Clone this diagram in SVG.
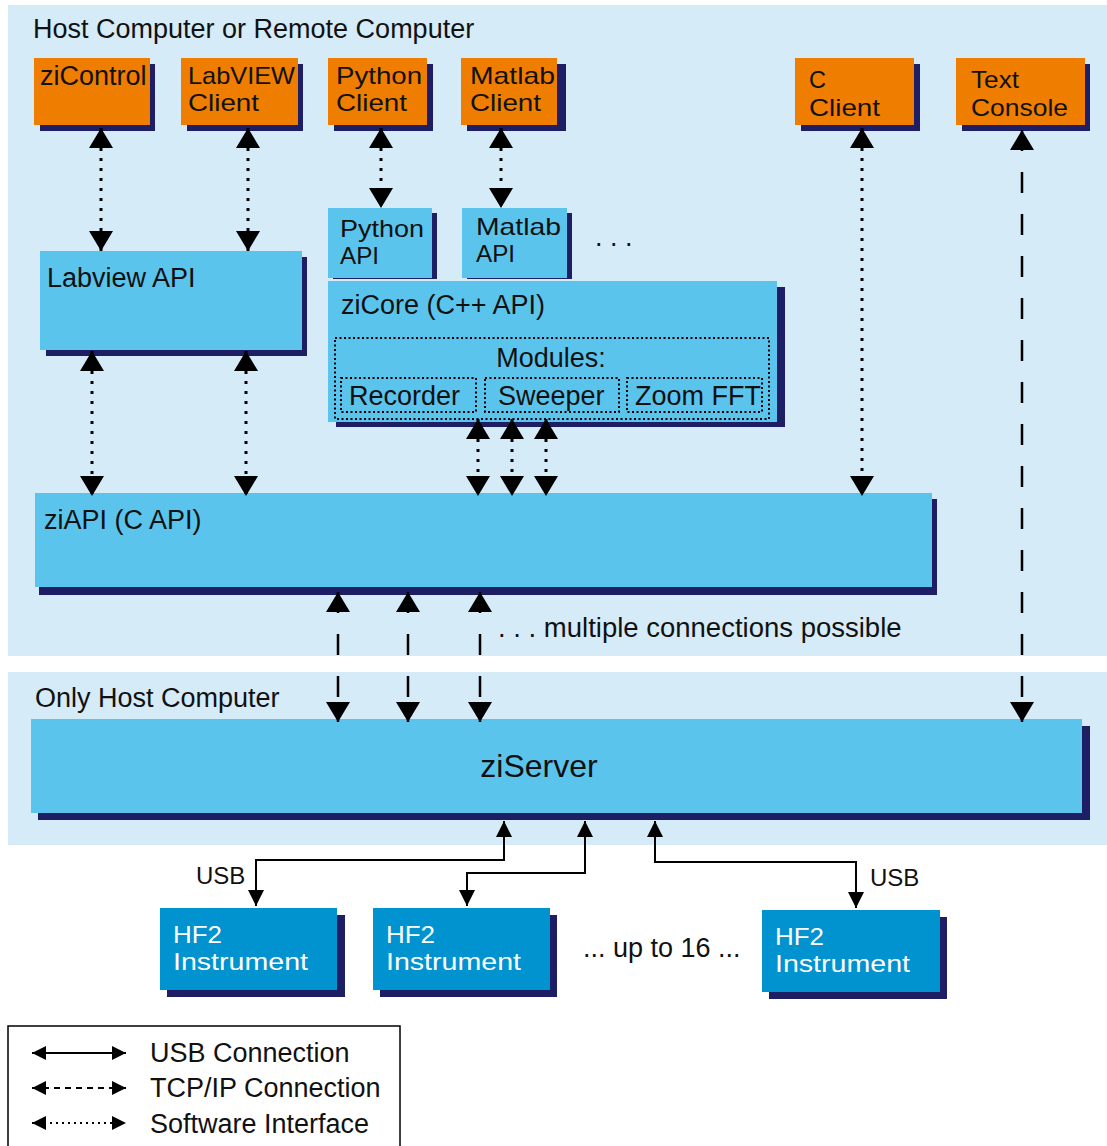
<svg xmlns="http://www.w3.org/2000/svg" width="1107" height="1146" viewBox="0 0 1107 1146">
<style>
text{font-family:"Liberation Sans",Arial,sans-serif;font-size:27px;fill:#111}
text.two{font-size:24px}
text.big{font-size:32px}
text.usbl{font-size:24px}
text.mc{font-size:27.5px}
text.wt{fill:#fff}
.panel{fill:#d5ebf8}
.sh{fill:#1e1e64}
.or{fill:#ef7d00}
.bl{fill:#5bc4ec}
.hf{fill:#0093d0}
.dot{stroke:#000;stroke-width:3;stroke-dasharray:3 7;fill:none}
.dash{stroke:#000;stroke-width:2.5;stroke-dasharray:21 21;fill:none}
.usb{stroke:#000;stroke-width:2;fill:none}
.mod{fill:none;stroke:#000;stroke-width:2;stroke-dasharray:2 2.5}
</style>
<defs>
<marker id="ah" viewBox="0 0 20 24" refX="20" refY="12" markerWidth="20" markerHeight="24" markerUnits="userSpaceOnUse" orient="auto-start-reverse"><path d="M0,0L20,12L0,24z" fill="#000"/></marker>
<marker id="as" viewBox="0 0 16 16" refX="16" refY="8" markerWidth="16" markerHeight="16" markerUnits="userSpaceOnUse" orient="auto-start-reverse"><path d="M0,0L16,8L0,16z" fill="#000"/></marker>
<marker id="al" viewBox="0 0 14 14" refX="14" refY="7" markerWidth="14" markerHeight="14" markerUnits="userSpaceOnUse" orient="auto-start-reverse"><path d="M0,0L14,7L0,14z" fill="#000"/></marker>
</defs>

<g id="panel-remote">
<rect class="panel" x="8" y="5" width="1099" height="651"/>
<text x="33" y="38">Host Computer or Remote Computer</text>
</g>
<g id="panel-host">
<rect class="panel" x="8" y="672" width="1099" height="173"/>
<text x="35" y="707">Only Host Computer</text>
</g>

<g id="ziControl">
<rect class="sh" x="40" y="64" width="115" height="67"/>
<rect class="or" x="34" y="58" width="116" height="67"/>
<text x="40" y="85">ziControl</text>
</g>
<g id="labview-client">
<rect class="sh" x="187" y="64" width="116" height="67"/>
<rect class="or" x="181" y="58" width="117" height="67"/>
<text class="two" x="188" y="84" textLength="107" lengthAdjust="spacingAndGlyphs">LabVIEW</text>
<text class="two" x="188" y="111" textLength="71" lengthAdjust="spacingAndGlyphs">Client</text>
</g>
<g id="python-client">
<rect class="sh" x="334" y="64" width="99" height="67"/>
<rect class="or" x="328" y="58" width="99" height="67"/>
<text class="two" x="336" y="84" textLength="86" lengthAdjust="spacingAndGlyphs">Python</text>
<text class="two" x="336" y="111" textLength="71" lengthAdjust="spacingAndGlyphs">Client</text>
</g>
<g id="matlab-client">
<rect class="sh" x="467" y="64" width="99" height="67"/>
<rect class="or" x="461" y="58" width="96" height="67"/>
<text class="two" x="470" y="84" textLength="85" lengthAdjust="spacingAndGlyphs">Matlab</text>
<text class="two" x="470" y="111" textLength="71" lengthAdjust="spacingAndGlyphs">Client</text>
</g>
<g id="c-client">
<rect class="sh" x="801" y="64" width="119" height="67"/>
<rect class="or" x="795" y="58" width="119" height="67"/>
<text class="two" x="809" y="88" textLength="17" lengthAdjust="spacingAndGlyphs">C</text>
<text class="two" x="809" y="116" textLength="71" lengthAdjust="spacingAndGlyphs">Client</text>
</g>
<g id="text-console">
<rect class="sh" x="962" y="64" width="128" height="67"/>
<rect class="or" x="956" y="58" width="129" height="67"/>
<text class="two" x="971" y="88" textLength="48" lengthAdjust="spacingAndGlyphs">Text</text>
<text class="two" x="971" y="116" textLength="97" lengthAdjust="spacingAndGlyphs">Console</text>
</g>

<g id="python-api">
<rect class="sh" x="333" y="213" width="104" height="66"/>
<rect class="bl" x="328" y="208" width="104" height="70"/>
<text class="two" x="340" y="237" textLength="84" lengthAdjust="spacingAndGlyphs">Python</text>
<text class="two" x="340" y="264" textLength="39" lengthAdjust="spacingAndGlyphs">API</text>
</g>
<g id="matlab-api">
<rect class="sh" x="467" y="213" width="105" height="66"/>
<rect class="bl" x="462" y="208" width="105" height="70"/>
<text class="two" x="476" y="235" textLength="85" lengthAdjust="spacingAndGlyphs">Matlab</text>
<text class="two" x="476" y="262" textLength="39" lengthAdjust="spacingAndGlyphs">API</text>
</g>
<text x="595" y="246">. . .</text>

<g id="zicore">
<rect class="sh" x="336" y="287" width="449" height="140"/>
<rect class="bl" x="328" y="281" width="449" height="141"/>
<text x="341" y="314">ziCore (C++ API)</text>
<rect class="mod" x="335" y="338" width="434" height="81"/>
<text x="551" y="367" text-anchor="middle">Modules:</text>
<rect class="mod" x="341" y="378" width="135" height="34"/>
<rect class="mod" x="485" y="378" width="134" height="34"/>
<rect class="mod" x="627" y="378" width="135" height="34"/>
<text x="349" y="405">Recorder</text>
<text x="498" y="405">Sweeper</text>
<text x="635" y="405">Zoom FFT</text>
</g>

<g id="labview-api">
<rect class="sh" x="46" y="257" width="261" height="99"/>
<rect class="bl" x="40" y="251" width="262" height="99"/>
<text x="47" y="287">Labview API</text>
</g>

<g id="ziapi">
<rect class="sh" x="39" y="499" width="898" height="96"/>
<rect class="bl" x="35" y="493" width="897" height="94"/>
<text x="44" y="529">ziAPI (C API)</text>
</g>

<g id="ziserver">
<rect class="sh" x="38" y="726" width="1052" height="94"/>
<rect class="bl" x="31" y="719" width="1051" height="94"/>
<text class="big" x="539" y="777" text-anchor="middle">ziServer</text>
</g>

<g id="hf2-1">
<rect class="sh" x="167" y="915" width="178" height="82"/>
<rect class="hf" x="160" y="908" width="177" height="82"/>
<text class="two wt" x="173" y="943" textLength="49" lengthAdjust="spacingAndGlyphs">HF2</text>
<text class="two wt" x="173" y="970" textLength="135" lengthAdjust="spacingAndGlyphs">Instrument</text>
</g>
<g id="hf2-2">
<rect class="sh" x="380" y="915" width="177" height="82"/>
<rect class="hf" x="373" y="908" width="177" height="82"/>
<text class="two wt" x="386" y="943" textLength="49" lengthAdjust="spacingAndGlyphs">HF2</text>
<text class="two wt" x="386" y="970" textLength="135" lengthAdjust="spacingAndGlyphs">Instrument</text>
</g>
<g id="hf2-3">
<rect class="sh" x="769" y="917" width="178" height="82"/>
<rect class="hf" x="762" y="910" width="178" height="82"/>
<text class="two wt" x="775" y="945" textLength="49" lengthAdjust="spacingAndGlyphs">HF2</text>
<text class="two wt" x="775" y="972" textLength="135" lengthAdjust="spacingAndGlyphs">Instrument</text>
</g>
<text x="583" y="957">... up to 16 ...</text>

<g id="connectors">
<line class="dot" x1="101" y1="128" x2="101" y2="251" marker-start="url(#ah)" marker-end="url(#ah)"/>
<line class="dot" x1="248" y1="128" x2="248" y2="251" marker-start="url(#ah)" marker-end="url(#ah)"/>
<line class="dot" x1="381" y1="128" x2="381" y2="208" marker-start="url(#ah)" marker-end="url(#ah)"/>
<line class="dot" x1="501" y1="128" x2="501" y2="208" marker-start="url(#ah)" marker-end="url(#ah)"/>
<line class="dot" x1="862" y1="128" x2="862" y2="496" marker-start="url(#ah)" marker-end="url(#ah)"/>
<line class="dot" x1="92" y1="351" x2="92" y2="496" marker-start="url(#ah)" marker-end="url(#ah)"/>
<line class="dot" x1="246" y1="351" x2="246" y2="496" marker-start="url(#ah)" marker-end="url(#ah)"/>
<line class="dot" x1="478" y1="419" x2="478" y2="496" marker-start="url(#ah)" marker-end="url(#ah)"/>
<line class="dot" x1="512" y1="419" x2="512" y2="496" marker-start="url(#ah)" marker-end="url(#ah)"/>
<line class="dot" x1="546" y1="419" x2="546" y2="496" marker-start="url(#ah)" marker-end="url(#ah)"/>
<line class="dash" x1="338" y1="592" x2="338" y2="722" marker-start="url(#ah)" marker-end="url(#ah)"/>
<line class="dash" x1="408" y1="592" x2="408" y2="722" marker-start="url(#ah)" marker-end="url(#ah)"/>
<line class="dash" x1="480" y1="592" x2="480" y2="722" marker-start="url(#ah)" marker-end="url(#ah)"/>
<line class="dash" x1="1022" y1="130" x2="1022" y2="722" marker-start="url(#ah)" marker-end="url(#ah)"/>
<polyline class="usb" points="504,821 504,860 256,860 256,906" marker-start="url(#as)" marker-end="url(#as)"/>
<polyline class="usb" points="585,821 585,873 467,873 467,906" marker-start="url(#as)" marker-end="url(#as)"/>
<polyline class="usb" points="655,821 655,862 856,862 856,908" marker-start="url(#as)" marker-end="url(#as)"/>
<text class="usbl" x="196" y="884">USB</text>
<text class="usbl" x="870" y="886">USB</text>
<text class="mc" x="498" y="637">. . . multiple connections possible</text>
</g>

<g id="legend">
<rect x="8" y="1026" width="392" height="130" fill="#fff" stroke="#000" stroke-width="1.5"/>
<line class="usb" x1="32" y1="1053" x2="126" y2="1053" marker-start="url(#al)" marker-end="url(#al)"/>
<line x1="32" y1="1088" x2="126" y2="1088" stroke="#000" stroke-width="2" stroke-dasharray="6 5" marker-start="url(#al)" marker-end="url(#al)"/>
<line x1="32" y1="1123" x2="126" y2="1123" stroke="#000" stroke-width="2" stroke-dasharray="2 4" marker-start="url(#al)" marker-end="url(#al)"/>
<text x="150" y="1062">USB Connection</text>
<text x="150" y="1097">TCP/IP Connection</text>
<text x="150" y="1133">Software Interface</text>
</g>
</svg>
